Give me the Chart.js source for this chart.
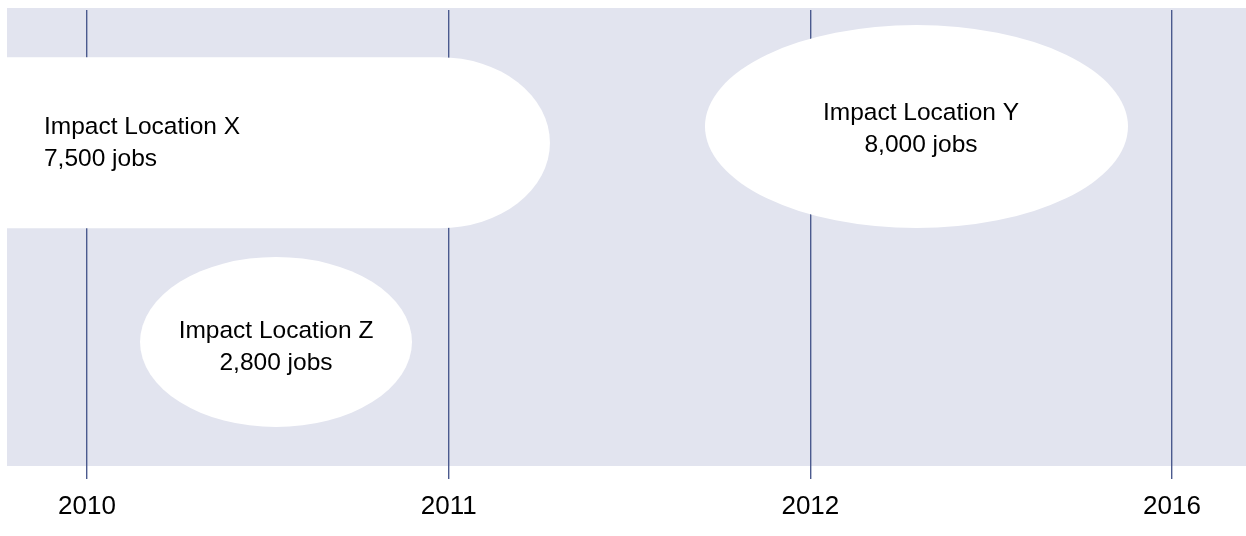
<!DOCTYPE html>
<html>
<head>
<meta charset="utf-8">
<script src="https://cdn.jsdelivr.net/npm/chart.js@4.4.1/dist/chart.umd.min.js"></script>
<style>
  html, body { margin: 0; padding: 0; background: #ffffff; }
</style>
</head>
<body>
<canvas id="chart" width="1246" height="536"></canvas>
<script>
// Data
const years = ['2010', '2011', '2012', '2016'];
const locations = ['Impact Location X', 'Impact Location Y', 'Impact Location Z'];
const jobs = [7500, 8000, 2800];

// Layout of the bubbles, in axis units (x = year slot, y = 0..100 band)
const bubbleX = [0.976, 2.2935, 0.5226];
const bubbleY = [70.9, 74.45, 27.2];
const bubbleRx = [0.304, 0.5848, 0.376];
const bubbleRy = [18.75, 22.26, 18.64];
const runsOffLeft = [true, false, false];
const labelX = [-0.119, 2.306, 0.5226];
const labelY = [69.2, 72.4, 24.6];
const labelAlign = ['left', 'center', 'center'];

const FONT = "'Liberation Sans', Arial, sans-serif";
const LINE_COLOR = '#4b5a8e';

// Fill the plot panel
const panelBg = {
    id: 'panelBg',
    beforeDraw(chart) {
        const { ctx, chartArea: a } = chart;
        ctx.save();
        ctx.fillStyle = '#e2e4ef';
        ctx.fillRect(a.left, a.top - 2, a.right - a.left, a.bottom - a.top + 2);
        ctx.restore();
    }
};

// Draw the white bubbles and their labels on top of the grid
const bubbles = {
    id: 'bubbles',
    afterDatasetsDraw(chart) {
        const { ctx } = chart;
        const xs = chart.scales.x;
        const ys = chart.scales.y;
        const meta = chart.getDatasetMeta(0);

        meta.data.forEach((pt, i) => {
            const rx = Math.abs(xs.getPixelForValue(bubbleX[i] + bubbleRx[i]) - pt.x);
            const ry = Math.abs(ys.getPixelForValue(bubbleY[i] + bubbleRy[i]) - pt.y);

            ctx.save();
            ctx.fillStyle = '#ffffff';
            ctx.beginPath();
            if (runsOffLeft[i]) {
                ctx.moveTo(0, pt.y - ry);
                ctx.lineTo(pt.x, pt.y - ry);
                ctx.ellipse(pt.x, pt.y, rx, ry, 0, -Math.PI / 2, Math.PI / 2);
                ctx.lineTo(0, pt.y + ry);
            } else {
                ctx.ellipse(pt.x, pt.y, rx, ry, 0, 0, Math.PI * 2);
            }
            ctx.closePath();
            ctx.fill();

            // Label: name and job count
            const tx = xs.getPixelForValue(labelX[i]);
            const ty = ys.getPixelForValue(labelY[i]);
            ctx.fillStyle = '#000000';
            ctx.font = '24.5px ' + FONT;
            ctx.textAlign = labelAlign[i];
            ctx.textBaseline = 'alphabetic';
            ctx.fillText(locations[i], tx, ty - 16);
            ctx.fillText(jobs[i].toLocaleString('en-US') + ' jobs', tx, ty + 16);
            ctx.restore();
        });
    }
};

const ctx = document.getElementById('chart').getContext('2d');
new Chart(ctx, {
    type: 'scatter',
    data: {
        datasets: [{
            data: locations.map((_, i) => ({ x: bubbleX[i], y: bubbleY[i] })),
            pointRadius: 0,
            pointHoverRadius: 0
        }]
    },
    options: {
        responsive: false,
        animation: false,
        devicePixelRatio: 1,
        layout: { padding: { left: 7, top: 10, right: 0, bottom: 0 } },
        plugins: {
            legend: { display: false },
            tooltip: { enabled: false }
        },
        scales: {
            x: {
                type: 'linear',
                min: -0.2212,
                max: 3.2046,
                afterBuildTicks: axis => {
                    axis.ticks = years.map((_, i) => ({ value: i }));
                },
                afterFit: axis => {
                    axis.height = 70;
                },
                ticks: {
                    callback: value => years[value],
                    color: '#000000',
                    font: { family: FONT, size: 26 },
                    padding: 12,
                    maxRotation: 0,
                    autoSkip: false
                },
                grid: {
                    color: LINE_COLOR,
                    lineWidth: 1.4,
                    drawTicks: true,
                    tickLength: 13,
                    tickColor: LINE_COLOR
                },
                border: { display: false }
            },
            y: {
                display: false,
                min: 0,
                max: 100
            }
        }
    },
    plugins: [panelBg, bubbles]
});
</script>
</body>
</html>
